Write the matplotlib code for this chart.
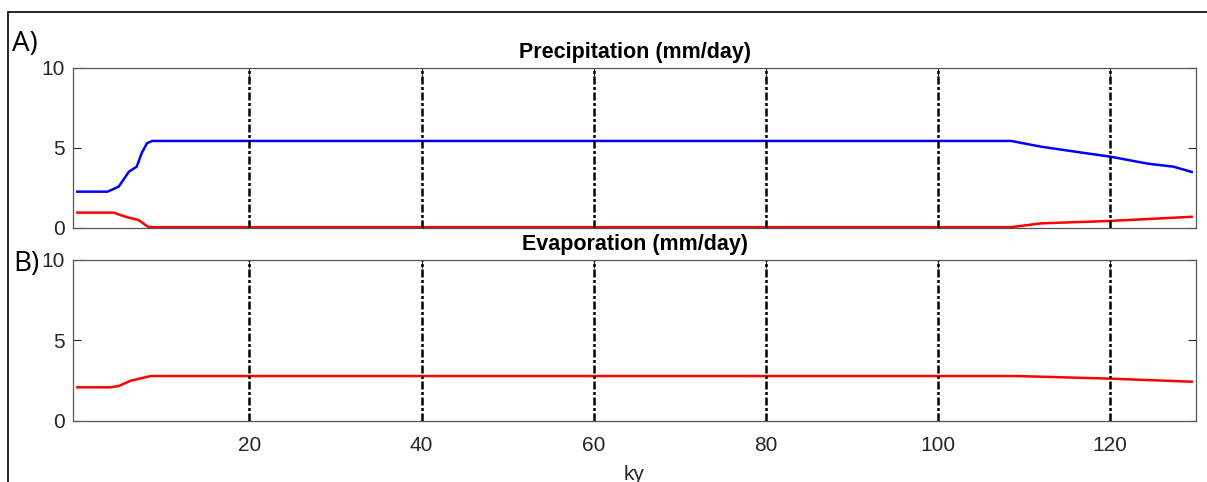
import numpy as np
import matplotlib.pyplot as plt
from matplotlib.patches import Rectangle

plt.rcParams['font.family'] = ['Liberation Sans', 'DejaVu Sans']

# blue precipitation curve (panel A)
precip_blue_ky = [0, 3.5, 4.8, 6.0, 6.9, 7.5, 8.1, 8.7, 108.5, 112, 116.6, 120, 124.4, 127.4, 129.5]
precip_blue = [2.27, 2.27, 2.58, 3.52, 3.83, 4.7, 5.3, 5.44, 5.44, 5.08, 4.72, 4.46, 4.02, 3.83, 3.5]

# red precipitation curve (panel A)
precip_red_ky = [0, 4.2, 5.8, 7.1, 8.2, 8.8, 108.5, 112, 120, 124.4, 129.5]
precip_red = [0.96, 0.96, 0.67, 0.5, 0.08, 0.05, 0.05, 0.29, 0.44, 0.56, 0.7]

# evaporation (panel B)
evap_ky = [0, 3.8, 4.8, 6.2, 8.5, 109.3, 120, 129.5]
evap = [2.09, 2.09, 2.17, 2.5, 2.79, 2.79, 2.63, 2.44]

marker_ky = [20, 40, 60, 80, 100, 120]
xticks = [20, 40, 60, 80, 100, 120]
yticks = [0, 5, 10]

fig = plt.figure(figsize=(12.07, 4.82), dpi=100)
ax1 = fig.add_axes([0.0605, 0.527, 0.9304, 0.332])
ax2 = fig.add_axes([0.0605, 0.1266, 0.9304, 0.334])

ax1.plot(precip_blue_ky, precip_blue, color='#0000ff', lw=1.8)
ax1.plot(precip_red_ky, precip_red, color='#ff0000', lw=1.8)
ax2.plot(evap_ky, evap, color='#ff0000', lw=1.8)

grey = '#262626'
for ax in (ax1, ax2):
    for k in marker_ky:
        ax.axvline(k, color='k', lw=1.8, ls=(0, (3.2, 1.0, 1.2, 1.0)))
    ax.set_xlim(-0.5, 130)
    ax.set_ylim(0, 10)
    ax.set_yticks(yticks)
    ax.set_xticks(xticks)
    ax.tick_params(direction='in', length=6, width=0.8, colors=grey,
                   labelsize=15, right=True, top=True, pad=6)
    ax.tick_params(axis='x', pad=11)
    for s in ax.spines.values():
        s.set_color('#555555')
        s.set_linewidth(0.9)

ax1.tick_params(labelbottom=False)
ax1.set_title('Precipitation (mm/day)', fontsize=15.5, fontweight='bold', pad=7)
ax2.set_title('Evaporation (mm/day)', fontsize=15.5, fontweight='bold', pad=7)
ax2.set_xlabel('ky', fontsize=15, color=grey, labelpad=7)

fig.text(0.010, 0.895, 'A)', fontsize=20, family=['Open Sans', 'DejaVu Sans'])
fig.text(0.011, 0.437, 'B)', fontsize=20, family=['Open Sans', 'DejaVu Sans'])

# outer frame (cropped at right and bottom)
fig.patches.append(Rectangle((0.0066, -0.05), 1.1, 1.025, transform=fig.transFigure,
                             fill=False, edgecolor='k', lw=1.2))

fig.savefig('out.png', dpi=100)
